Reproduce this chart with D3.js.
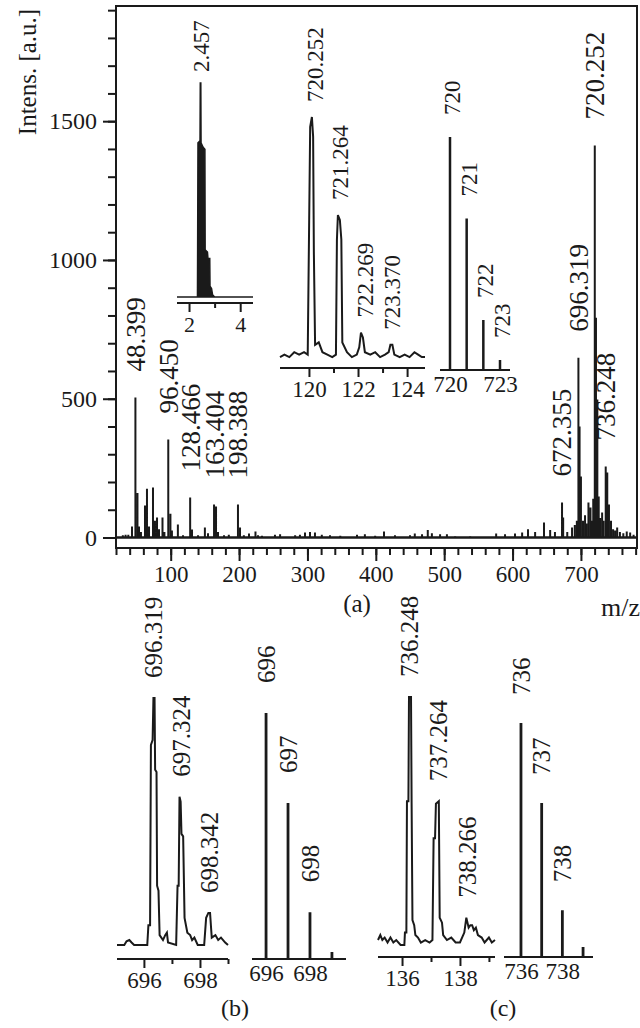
<!DOCTYPE html>
<html lang="en">
<head>
  <meta charset="UTF-8">
  <title>Mass spectrum with insets</title>
  <script src="https://d3js.org/d3.v7.min.js"></script>
  <style>
    body { margin: 0; background: #fff; }
    svg { display: block; }
    text { font-family: "Liberation Serif", "DejaVu Serif", serif; fill: #1a1a1a; }
    .line { fill: none; stroke: #1a1a1a; }
  </style>
</head>
<body>
  <svg id="chart" width="640" height="1028"></svg>

  <script>
    // ---- data ----
    // main spectrum (a): [m/z, intensity a.u.]
    const mainPeaks = [
      [30, 8], [34, 10], [38, 10], [43.4, 40], [48.399, 504], [51.4, 160], [53.6, 40], [56.5, 20],
      [62.4, 115], [65.3, 176], [68.3, 40], [74.1, 180], [77, 60], [80, 72], [82.9, 30], [88, 72],
      [90.8, 20], [96.45, 353], [99.6, 86], [101.8, 25], [110.5, 47], [118, 8], [128.466, 144],
      [131.2, 29], [140, 8], [150, 36], [154.6, 15], [163.404, 119], [166.3, 112], [169.2, 20],
      [178, 8], [185, 10], [198.388, 119], [201.4, 36], [207, 8], [214.5, 14], [224, 22], [227.7, 8],
      [233.5, 6], [252.5, 10], [260, 12], [282, 8], [289, 10], [296.4, 18], [303.7, 20], [311, 18],
      [321, 10], [333, 8], [348, 6], [372.5, 10], [384, 12], [399, 6], [412, 22], [428, 8], [450, 8],
      [457, 14], [467.6, 12], [476, 27], [482, 15], [494, 12], [504, 12], [516, 4], [538, 4],
      [576, 14], [589, 12], [603.6, 14], [614, 18], [622.6, 30], [633, 20], [646, 54], [655, 27],
      [662, 20], [672.355, 126], [674, 72], [680, 20], [687, 36], [691, 45], [694, 60], [696.319, 648],
      [698, 400], [700, 220], [703, 60], [706, 80], [708, 50], [711, 126], [714, 108], [716, 60],
      [718, 140], [720.252, 1412], [722, 792], [724, 497], [726, 148], [728, 70], [731, 90], [733, 60],
      [736.248, 256], [738.5, 234], [741, 119], [744, 60], [747, 30], [750, 25], [753, 36], [757, 20],
      [762, 15], [767, 22], [772, 18], [777, 10]
    ];
    const mainLabels = ["48.399", "96.450", "128.466", "163.404", "198.388", "672.355", "696.319", "720.252", "736.248"];
    const mainXTicks = [100, 200, 300, 400, 500, 600, 700];
    const mainYTicks = [0, 500, 1000, 1500];

    // inset 1: [x, relative intensity %]
    const inset1 = [
      [1.53, 0], [2.33, 0], [2.35, 72], [2.43, 73], [2.44, 100], [2.46, 100], [2.47, 72], [2.55, 70],
      [2.62, 69], [2.63, 22], [2.72, 21], [2.74, 18], [2.81, 18], [2.82, 5], [2.88, 4], [2.92, 1],
      [3.0, 0], [4.5, 0]
    ];
    const inset1Labels = ["2.457"];
    const inset1Ticks = [2, 4];

    // inset 2: measured isotope pattern (axis reads 120-124)
    const inset2 = [
      [118.82, 2], [119.0, 3], [119.2, 2], [119.4, 4], [119.6, 3], [119.8, 4], [119.95, 3],
      [120.05, 96], [120.12, 100], [120.17, 92], [120.2, 45], [120.25, 7],
      [120.4, 8], [120.55, 4], [120.75, 3], [120.95, 2], [121.1, 3],
      [121.14, 50], [121.18, 60], [121.26, 58], [121.32, 50], [121.36, 8],
      [121.55, 4], [121.75, 2], [121.95, 3], [122.05, 6], [122.12, 12], [122.2, 10], [122.28, 4],
      [122.5, 3], [122.7, 4], [122.9, 2], [123.1, 3], [123.25, 4], [123.32, 7], [123.4, 7], [123.48, 3],
      [123.7, 2], [123.9, 3], [124.1, 2], [124.3, 4], [124.45, 3], [124.6, 2], [124.73, 2]
    ];
    const inset2Labels = ["720.252", "721.264", "722.269", "723.370"];
    const inset2Ticks = [120, 122, 124];
    const inset2Minor = [121, 123];

    // inset 3: calculated pattern
    const inset3 = [[720, 100], [721, 65], [722, 21.5], [723, 4.3]];
    const inset3Ticks = [720, 723];

    // (b) measured and calculated
    const bExp = [
      [695.04, 0], [695.3, 0], [695.38, 1.5], [695.48, 2], [695.56, 1], [695.65, 0], [696.12, 0],
      [696.16, 8], [696.22, 8], [696.25, 81], [696.31, 83], [696.34, 100], [696.38, 100], [696.4, 71],
      [696.45, 70], [696.47, 24], [696.52, 22], [696.56, 4], [696.68, 2], [696.76, 4], [696.82, 5],
      [696.86, 1], [697.15, 0], [697.2, 24], [697.24, 24], [697.27, 60], [697.31, 58], [697.34, 45],
      [697.4, 44], [697.45, 11], [697.55, 5], [697.65, 4], [697.72, 2], [697.8, 3], [697.92, 0],
      [698.15, 0], [698.22, 11], [698.3, 13], [698.36, 13], [698.42, 3], [698.55, 4], [698.65, 2],
      [698.75, 3], [698.9, 1], [699.0, 0]
    ];
    const bExpLabels = ["696.319", "697.324", "698.342"];
    const bExpTicks = [696, 698];
    const bExpMinor = [697, 699];
    const bTheo = [[696, 100], [697, 63.4], [698, 19], [699, 2.8]];
    const bTheoLabels = ["696", "697", "698"];
    const bTheoTicks = [696, 698];

    // (c) measured (axis reads 136-138) and calculated
    const cExp = [
      [135.17, 2], [135.25, 4], [135.32, 2], [135.4, 3], [135.5, 1], [135.6, 3], [135.7, 1], [135.8, 2],
      [135.95, 0], [136.08, 0], [136.1, 5], [136.15, 5], [136.17, 58], [136.22, 58], [136.24, 100],
      [136.31, 100], [136.33, 58], [136.36, 10], [136.42, 8], [136.46, 4], [136.55, 3], [136.65, 1],
      [136.8, 2], [136.95, 1], [137.05, 2], [137.09, 43], [137.14, 43], [137.17, 57], [137.27, 58],
      [137.3, 11], [137.38, 9], [137.42, 4], [137.55, 2], [137.7, 3], [137.85, 1], [138.0, 1],
      [138.15, 5], [138.22, 11], [138.3, 7], [138.36, 8], [138.42, 8], [138.48, 6], [138.55, 7],
      [138.62, 4], [138.75, 3], [138.85, 1], [139.0, 3], [139.1, 1], [139.21, 2]
    ];
    const cExpLabels = ["736.248", "737.264", "738.266"];
    const cExpTicks = [136, 138];
    const cExpMinor = [137, 139];
    const cTheo = [[736, 100], [737, 65.8], [738, 20], [739, 4.3]];
    const cTheoLabels = ["736", "737", "738"];
    const cTheoTicks = [736, 738];

    // ---- drawing ----
    const ink = "#1a1a1a";
    const svg = d3.select("#chart");

    // tallest point of a series near m
    function peakAt(series, m, w) {
      return d3.max(series.filter(d => Math.abs(d[0] - m) <= w), d => d[1]);
    }

    // vertical label whose lower end sits at (px, py)
    function vlabel(px, py, txt, size) {
      svg.append("text")
        .attr("transform", `translate(${px},${py}) rotate(-90)`)
        .attr("dy", "0.35em")
        .attr("font-size", size)
        .text(txt);
    }

    function sticks(series, xs, ys, width) {
      svg.append("path")
        .attr("class", "line")
        .attr("stroke-width", width)
        .attr("d", series.map(([m, v]) => `M${xs(m)},${ys(0)}V${ys(v)}`).join(""));
    }

    function trace(series, xs, ys, width) {
      svg.append("path")
        .datum(series)
        .attr("class", "line")
        .attr("stroke-width", width)
        .attr("d", d3.line().x(d => xs(d[0])).y(d => ys(d[1])));
    }

    function styleAxis(g, size) {
      g.attr("font-family", null).attr("font-size", size).attr("color", ink);
      g.select(".domain").remove();
      g.selectAll(".tick line").attr("stroke-width", 2);
    }

    function bottomAxis(xs, yPos, ticks, minor, major, size) {
      if (minor) {
        svg.append("g").attr("transform", `translate(0,${yPos})`)
          .call(d3.axisBottom(xs).tickValues(minor).tickSize(5).tickFormat(""))
          .call(g => styleAxis(g, size));
      }
      svg.append("g").attr("transform", `translate(0,${yPos})`)
        .call(d3.axisBottom(xs).tickValues(ticks).tickSize(major).tickPadding(major ? 4 : 6).tickFormat(d3.format("d")))
        .call(g => styleAxis(g, size));
      svg.append("line")
        .attr("x1", xs.range()[0]).attr("x2", xs.range()[1])
        .attr("y1", yPos).attr("y2", yPos)
        .attr("stroke", ink).attr("stroke-width", 2);
    }

    // main panel (a)
    const x = d3.scaleLinear().domain([20, 782]).range([116, 637]);
    const y = d3.scaleLinear().domain([0, 1915]).range([537.5, 6]);

    svg.append("g").attr("transform", "translate(0,548)")
      .call(d3.axisBottom(x).tickValues(d3.range(20, 781, 20)).tickSize(7).tickFormat(""))
      .call(g => styleAxis(g, 23));
    svg.append("g").attr("transform", "translate(0,548)")
      .call(d3.axisBottom(x).tickValues(mainXTicks).tickSize(13).tickPadding(5).tickFormat(d3.format("d")))
      .call(g => styleAxis(g, 23));
    svg.append("g").attr("transform", "translate(116,0)")
      .call(d3.axisLeft(y).tickValues(d3.range(100, 1901, 100)).tickSize(8).tickFormat(""))
      .call(g => styleAxis(g, 24));
    svg.append("g").attr("transform", "translate(116,0)")
      .call(d3.axisLeft(y).tickValues(mainYTicks).tickSize(13).tickPadding(6).tickFormat(d3.format("d")))
      .call(g => styleAxis(g, 24));

    svg.append("rect")
      .attr("x", 116).attr("y", 6).attr("width", 521).attr("height", 542)
      .attr("fill", "none").attr("stroke", ink).attr("stroke-width", 2);

    svg.append("line")
      .attr("x1", x(20)).attr("x2", x(782)).attr("y1", y(0)).attr("y2", y(0))
      .attr("stroke", ink).attr("stroke-width", 2.5);
    sticks(mainPeaks, x, y, 2);
    mainLabels.forEach(t => vlabel(x(+t), y(peakAt(mainPeaks, +t, 0.5)) - 26, t, 27));

    svg.append("text")
      .attr("transform", "translate(27,72) rotate(-90)")
      .attr("text-anchor", "middle").attr("dy", "0.35em").attr("font-size", 25)
      .text("Intens. [a.u.]");
    svg.append("text").attr("x", 357).attr("y", 603).attr("dy", "0.35em")
      .attr("text-anchor", "middle").attr("font-size", 25).text("(a)");
    svg.append("text").attr("x", 601).attr("y", 607).attr("dy", "0.35em")
      .attr("font-size", 26).text("m/z");

    // inset 1
    const x1 = d3.scaleLinear().domain([1.53, 4.5]).range([177, 253]);
    const y1 = d3.scaleLinear().domain([0, 100]).range([297, 83]);
    svg.append("path").datum(inset1)
      .attr("fill", ink).attr("stroke", ink).attr("stroke-width", 1.5)
      .attr("d", d3.area().x(d => x1(d[0])).y0(y1(0)).y1(d => y1(d[1])));
    bottomAxis(x1, 303, inset1Ticks, [3], 9, 22);
    inset1Labels.forEach(t => vlabel(x1(+t), y1(peakAt(inset1, +t, 0.05)) - 11, t, 23));

    // inset 2
    const x2 = d3.scaleLinear().domain([118.82, 124.73]).range([280, 425]);
    const y2 = d3.scaleLinear().domain([0, 100]).range([362, 117]);
    trace(inset2, x2, y2, 2);
    bottomAxis(x2, 368, inset2Ticks, inset2Minor, 9, 23);
    inset2Labels.forEach(t => vlabel(x2(t - 600), y2(peakAt(inset2, t - 600, 0.3)) - 15, t, 23));

    // inset 3
    const x3 = d3.scaleLinear().domain([719.4, 723.6]).range([440, 510]);
    const y3 = d3.scaleLinear().domain([0, 100]).range([370, 137]);
    sticks(inset3, x3, y3, 2.5);
    bottomAxis(x3, 370, inset3Ticks, null, 0, 23);
    inset3.forEach(([m, v]) => vlabel(x3(m) + 2, y3(v) - 22, String(m), 23));

    // panel (b) measured
    const xb = d3.scaleLinear().domain([695.04, 699.0]).range([117, 228]);
    const yb = d3.scaleLinear().domain([0, 100]).range([945, 698]);
    trace(bExp, xb, yb, 2);
    bottomAxis(xb, 959, bExpTicks, bExpMinor, 9, 23);
    bExpLabels.forEach(t => vlabel(xb(+t), yb(peakAt(bExp, +t, 0.3)) - 20, t, 25));

    // panel (b) calculated
    const xbt = d3.scaleLinear().domain([695.36, 699.64]).range([252, 346]);
    const ybt = d3.scaleLinear().domain([0, 100]).range([959, 713]);
    sticks(bTheo, xbt, ybt, 2.8);
    bottomAxis(xbt, 959, bTheoTicks, null, 0, 23);
    bTheoLabels.forEach(t => vlabel(xbt(+t), ybt(peakAt(bTheo, +t, 0.1)) - 30, t, 25));

    // panel (c) measured
    const xc = d3.scaleLinear().domain([135.17, 139.21]).range([378, 495]);
    const yc = d3.scaleLinear().domain([0, 100]).range([945, 697]);
    trace(cExp, xc, yc, 2);
    bottomAxis(xc, 957, cExpTicks, cExpMinor, 9, 23);
    cExpLabels.forEach(t => vlabel(xc(t - 600), yc(peakAt(cExp, t - 600, 0.3)) - 20, t, 25));

    // panel (c) calculated
    const xct = d3.scaleLinear().domain([735.18, 739.48]).range([504, 593]);
    const yct = d3.scaleLinear().domain([0, 100]).range([957, 723]);
    sticks(cTheo, xct, yct, 2.8);
    bottomAxis(xct, 957, cTheoTicks, null, 0, 23);
    cTheoLabels.forEach(t => vlabel(xct(+t), yct(peakAt(cTheo, +t, 0.1)) - 28, t, 25));

    svg.append("text").attr("x", 235).attr("y", 1008).attr("dy", "0.35em")
      .attr("text-anchor", "middle").attr("font-size", 24).text("(b)");
    svg.append("text").attr("x", 503).attr("y", 1008).attr("dy", "0.35em")
      .attr("text-anchor", "middle").attr("font-size", 24).text("(c)");
  </script>
</body>
</html>
